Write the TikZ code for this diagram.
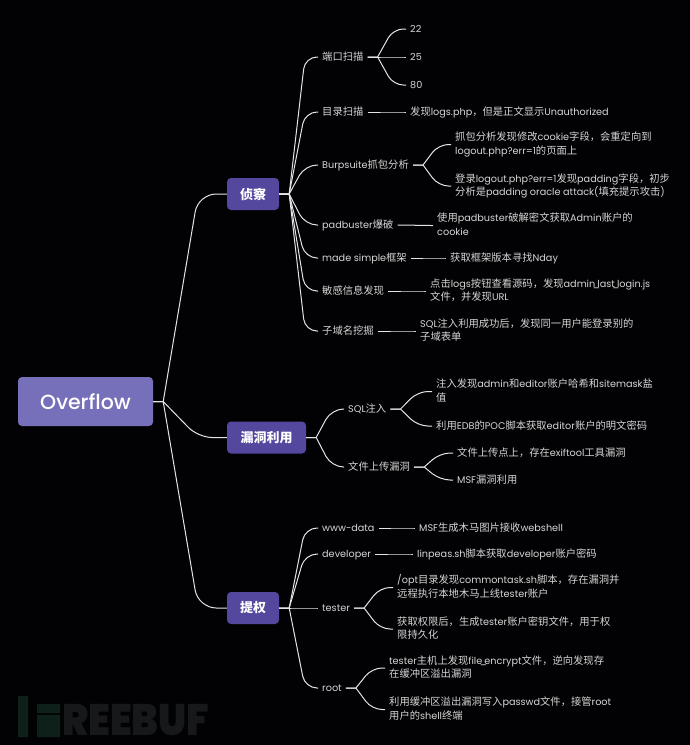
\documentclass[tikz,border=0pt]{standalone}
\usepackage{fontspec}
\setmainfont{Poppins}[Scale=0.94]
\newfontfamily\lat{Poppins}[Scale=0.94]
\newfontfamily\cjk{Noto Sans CJK SC}
\newfontfamily\markfont{Poppins Black}
\newfontfamily\rootfont{Poppins Medium}
\usetikzlibrary{calc}
% switch between the two fonts inside a label
\XeTeXinterchartokenstate=1
\newXeTeXintercharclass\zhclass
\count255="4E00
\loop
  \XeTeXcharclass\count255=\zhclass
  \ifnum\count255<"9FFF \advance\count255 1 \repeat
\XeTeXcharclass"FF0C=\zhclass
\XeTeXinterchartoks 0 \zhclass = {\cjk}
\XeTeXinterchartoks \zhclass 0 = {\lat}
\XeTeXinterchartoks 4095 \zhclass = {\cjk}
\newcommand{\us}{\kern-2.5pt\_\kern-2.5pt}
\definecolor{pagebg}{HTML}{020204}
\definecolor{rootfill}{HTML}{7670BA}
\definecolor{mainfill}{HTML}{53479E}
\definecolor{linecol}{HTML}{E4E4E4}
\definecolor{textcol}{HTML}{D6D6D6}
\definecolor{markgreen}{HTML}{0E201A}
\definecolor{markgrey}{HTML}{17181A}
\tikzset{
  rootbox/.style={fill=rootfill,rounded corners=4pt,minimum width=135pt,minimum height=49pt,
    text=white,font=\fontsize{20.5}{24}\rootfont},
  mainbox/.style={fill=mainfill,rounded corners=4pt,minimum height=32pt,inner xsep=0pt,
    text=white,font=\fontsize{13}{16}\selectfont\cjk\bfseries},
  leaf/.style={anchor=west,inner xsep=4pt,inner ysep=0pt,align=left,text=textcol,
    font=\fontsize{10.3}{13.5}\selectfont,
    execute at begin node={\rule{0pt}{11pt}},
    execute at end node={\rule[-3.2pt]{0pt}{3.2pt}}},
  link/.style={draw=linecol,line width=1pt,to path={
    let \p1=(\tikztostart.east),\p2=(\tikztotarget.west) in
    (\p1) -- (\x1+10pt,\y1)
    [rounded corners=#1] (\x1+10pt,\y1) -- ({\x1+10pt+0.55*(\x2-\x1-10pt)},\y2) -- (\x2,\y2)}},
  link/.default=10pt
}
\begin{document}
\begin{tikzpicture}[x=1pt,y=-1pt]
  \fill [pagebg] (0,0) rectangle (690,745);
  % watermark
  \fill [markgreen] (18,696) rectangle (28,737)
                    (37,704) rectangle (60,713)
                    (37,715) rectangle (60,737);
  \node (mark) [anchor=west,inner sep=0pt,xscale=0.89,text=markgrey,font=\fontsize{44}{44}\markfont] at (62,720) {REEBUF};
  % root and main topics
  \node (root) [rootbox] at (85.5,401.5) {Overflow};
  \node (recon) [mainbox,minimum width=52pt] at (253,194) {侦察};
  \node (exploit) [mainbox,minimum width=79pt] at (266.5,437.5) {漏洞利用};
  \node (privesc) [mainbox,minimum width=52pt] at (253,608) {提权};
  % recon branch
  \node (ports) [leaf] at (318,57) {端口扫描};
  \node (dirs) [leaf] at (318,112) {目录扫描};
  \node (burp) [leaf] at (318,165) {Burpsuite抓包分析};
  \node (padb) [leaf] at (318,225) {padbuster爆破};
  \node (made) [leaf] at (318,258) {made simple框架};
  \node (leak) [leaf] at (318,291) {敏感信息发现};
  \node (subd) [leaf] at (318,331) {子域名挖掘};
  \node (p22) [leaf] at (406,29) {22};
  \node (p25) [leaf] at (406,57) {25};
  \node (p80) [leaf] at (406,85) {80};
  \node (logs) [leaf] at (406,112) {发现logs.php，但是正文显示Unauthorized};
  \node (burpa) [leaf] at (451,144.5) {抓包分析发现修改cookie字段，会重定向到\\logout.php?err=1的页面上};
  \node (burpb) [leaf] at (451,186) {登录logout.php?err=1发现padding字段，初步\\分析是padding oracle attack(填充提示攻击)};
  \node (padc) [leaf] at (433,225.5) {使用padbuster破解密文获取Admin账户的\\cookie};
  \node (nday) [leaf] at (446,258) {获取框架版本寻找Nday};
  \node (leakb) [leaf] at (426,291) {点击logs按钮查看源码，发现admin\us last\us login.js\\文件，并发现URL};
  \node (subdb) [leaf] at (416,331) {SQL注入利用成功后，发现同一用户能登录别的\\子域表单};
  % exploit branch
  \node (sqli) [leaf] at (344,409) {SQL注入};
  \node (upload) [leaf] at (344,467) {文件上传漏洞};
  \node (sqla) [leaf] at (432,391.5) {注入发现admin和editor账户哈希和sitemask盐\\值};
  \node (sqlb) [leaf] at (432,426) {利用EDB的POC脚本获取editor账户的明文密码};
  \node (upa) [leaf] at (453,453) {文件上传点上，存在exiftool工具漏洞};
  \node (upb) [leaf] at (453,480) {MSF漏洞利用};
  % privesc branch
  \node (www) [leaf] at (318,528) {www-data};
  \node (devel) [leaf] at (318,554) {developer};
  \node (tester) [leaf] at (318,608) {tester};
  \node (rootu) [leaf] at (318,688) {root};
  \node (wwwa) [leaf] at (415,528) {MSF生成木马图片接收webshell};
  \node (devela) [leaf] at (413,554) {linpeas.sh脚本获取developer账户密码};
  \node (testa) [leaf] at (393,587.5) {/opt目录发现commontask.sh脚本，存在漏洞并\\远程执行本地木马上线tester账户};
  \node (testb) [leaf] at (393,629) {获取权限后，生成tester账户密钥文件，用于权\\限持久化};
  \node (roota) [leaf] at (385,668) {tester主机上发现file\us encrypt文件，逆向发现存\\在缓冲区溢出漏洞};
  \node (rootb) [leaf] at (385,709.5) {利用缓冲区溢出漏洞写入passwd文件，接管root\\用户的shell终端};
  % connectors
  \draw [link=18pt] (root) to (recon);
  \draw [link=14pt] (root) to (exploit);
  \draw [link=18pt] (root) to (privesc);
  \draw [link=12pt] (recon) to (ports);
  \draw [link=12pt] (recon) to (dirs);
  \draw [link=12pt] (recon) to (burp);
  \draw [link=12pt] (recon) to (padb);
  \draw [link=12pt] (recon) to (made);
  \draw [link=12pt] (recon) to (leak);
  \draw [link=12pt] (recon) to (subd);
  \draw [link] (ports) to (p22);
  \draw [link] (ports) to (p25);
  \draw [link] (ports) to (p80);
  \draw [link] (dirs) to (logs);
  \draw [link] (burp) to (burpa);
  \draw [link] (burp) to (burpb);
  \draw [link] (padb) to (padc);
  \draw [link] (made) to (nday);
  \draw [link] (leak) to (leakb);
  \draw [link] (subd) to (subdb);
  \draw [link=12pt] (exploit) to (sqli);
  \draw [link=12pt] (exploit) to (upload);
  \draw [link] (sqli) to (sqla);
  \draw [link] (sqli) to (sqlb);
  \draw [link] (upload) to (upa);
  \draw [link] (upload) to (upb);
  \draw [link=12pt] (privesc) to (www);
  \draw [link=12pt] (privesc) to (devel);
  \draw [link=12pt] (privesc) to (tester);
  \draw [link=12pt] (privesc) to (rootu);
  \draw [link] (www) to (wwwa);
  \draw [link] (devel) to (devela);
  \draw [link] (tester) to (testa);
  \draw [link] (tester) to (testb);
  \draw [link] (rootu) to (roota);
  \draw [link] (rootu) to (rootb);
\end{tikzpicture}
\end{document}
